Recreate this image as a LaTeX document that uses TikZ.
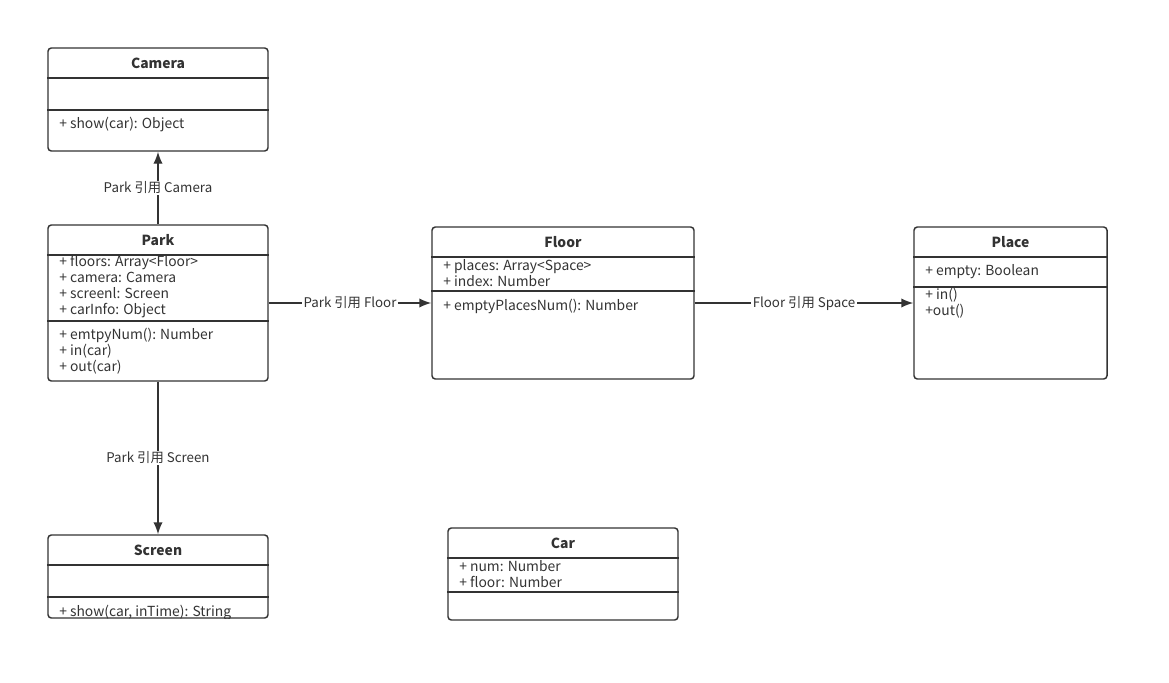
\documentclass[tikz,border=0pt]{standalone}
\usepackage{fontspec}
\setmainfont{Noto Sans CJK SC}
\usepackage{tikz}
\usetikzlibrary{arrows.meta}
\usepackage{xcolor}
\definecolor{umlgray}{HTML}{333333}
\tikzset{>={Latex[length=9pt,width=7pt]}}

\begin{document}
\begin{tikzpicture}[x=0.75pt, y=-0.75pt]
        % one pixel of the reference = one unit
        \tikzstyle{classbox}=[draw=umlgray, line width=1.1pt, rounded corners=2.5pt, inner sep=0pt]
        \tikzstyle{title}=[font=\fontsize{10.4}{12}\selectfont\bfseries, text=umlgray, inner sep=0pt]
        \tikzstyle{member}=[font=\fontsize{10.4}{12}\selectfont, text=umlgray, align=left, anchor=west, inner sep=0pt]
        \tikzstyle{divider}=[draw=umlgray, line width=1.1pt]
        \tikzstyle{link}=[draw=umlgray, ->, line width=1.1pt]
        \tikzstyle{linklabel}=[font=\fontsize{10}{12}\selectfont, text=umlgray, fill=white, inner sep=1pt]
        \useasboundingbox (0,0) rectangle (1169,682);

        % Camera
        \node[classbox, minimum width=165pt, minimum height=77.25pt] (camera) at (158,99.5) {};
        \node[title] (camera-t) at (158,63) {Camera};
        \draw[divider] (camera.west |- 0,78) -- (camera.east |- 0,78);
        \draw[divider] (camera.west |- 0,110) -- (camera.east |- 0,110);
        \node[member] (camera-m) at (59,125) {+ show(car): Object};

        % Park
        \node[classbox, minimum width=165pt, minimum height=117pt] (park) at (158,303) {};
        \node[title] (park-t) at (158,240) {Park};
        \draw[divider] (park.west |- 0,255) -- (park.east |- 0,255);
        \draw[divider] (park.west |- 0,321) -- (park.east |- 0,321);
        \node[member] (park-a) at (59,287) {+ floors: Array<Floor>\\+ camera: Camera\\+ screenl: Screen\\+ carInfo: Object};
        \node[member] (park-m) at (59,351) {+ emtpyNum(): Number\\+ in(car)\\+ out(car)};

        % Floor
        \node[classbox, minimum width=196.5pt, minimum height=114pt] (floor) at (563,303) {};
        \node[title] (floor-t) at (563,242) {Floor};
        \draw[divider] (floor.west |- 0,257) -- (floor.east |- 0,257);
        \draw[divider] (floor.west |- 0,291) -- (floor.east |- 0,291);
        \node[member] (floor-a) at (443,273) {+ places: Array<Space>\\+ index: Number};
        \node[member] (floor-m) at (443,306) {+ emptyPlacesNum(): Number};

        % Place
        \node[classbox, minimum width=144.75pt, minimum height=114pt] (place) at (1010.5,303) {};
        \node[title] (place-t) at (1010.5,242) {Place};
        \draw[divider] (place.west |- 0,257) -- (place.east |- 0,257);
        \draw[divider] (place.west |- 0,287) -- (place.east |- 0,287);
        \node[member] (place-a) at (925,272) {+ empty: Boolean};
        \node[member] (place-m) at (925,303) {+ in()\\+out()};

        % Screen
        \node[classbox, minimum width=165pt, minimum height=62.25pt] (screen) at (158,576.5) {};
        \node[title] (screen-t) at (158,550) {Screen};
        \draw[divider] (screen.west |- 0,565) -- (screen.east |- 0,565);
        \draw[divider] (screen.west |- 0,597) -- (screen.east |- 0,597);
        \begin{scope}
                \clip (screen.north west) rectangle (screen.south east);
                \node[member] (screen-m) at (59,613) {+ show(car, inTime): String};
        \end{scope}

        % Car
        \node[classbox, minimum width=172.5pt, minimum height=69pt] (car) at (563,574) {};
        \node[title] (car-t) at (563,543) {Car};
        \draw[divider] (car.west |- 0,558) -- (car.east |- 0,558);
        \draw[divider] (car.west |- 0,592) -- (car.east |- 0,592);
        \node[member] (car-a) at (459,574) {+ num: Number\\+ floor: Number};

        % references
        \draw[link] (park) -- node[linklabel] {Park 引用 Camera} (camera);
        \draw[link] (park) -- node[linklabel] {Park 引用 Floor} (floor);
        \draw[link] (floor) -- node[linklabel] {Floor 引用 Space} (place);
        \draw[link] (park) -- node[linklabel] {Park 引用 Screen} (screen);
\end{tikzpicture}
\end{document}
